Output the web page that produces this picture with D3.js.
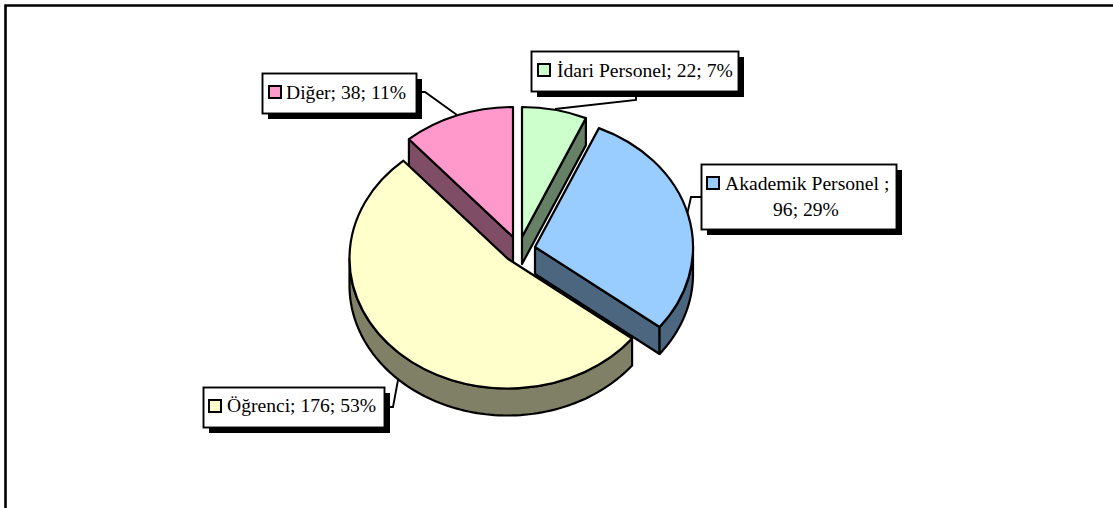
<!DOCTYPE html>
<html><head><meta charset="utf-8">
<script src="https://cdn.jsdelivr.net/npm/d3@7/dist/d3.min.js"></script>
<style>html,body{margin:0;padding:0;background:#fff;overflow:hidden}svg{display:block}</style>
</head><body><svg id="c" width="1113" height="508"></svg>
<script>
// Data
const categories = ["İdari Personel", "Akademik Personel ", "Öğrenci", "Diğer"];
const values = [22, 96, 176, 38];
const percents = [7, 29, 53, 11];

// Styles
const topColors = ["#CCFFCC", "#99CCFF", "#FFFFCC", "#FF99CC"];
const wallColors = ["#668066", "#4D6680", "#808066", "#804D66"];

// Layout
const rx = 158, ry = 130, depth = 27;
const centers = [[522, 237], [535, 247], [507.5, 258.5], [513, 237]];
const boxes = [[531, 51, 207, 40], [701, 164, 195, 65], [203, 387, 181, 40], [262, 73, 154, 40]];
const leaders = [
  [[636, 91], [636, 100], [555, 109]],
  [[701, 197], [691, 197], [687, 215]],
  [[384, 407], [393, 407], [398, 380]],
  [[416, 92], [425, 92], [457, 115]]
];
const drawOrder = [0, 1, 3, 2];

const svg = d3.select("#c");
const FONT = "'Liberation Serif','Times New Roman',serif";
const line = d3.line();

// Chart frame: open at right and bottom, as in the reference
svg.append("path").attr("d", line([[5.5, 508], [5.5, 5.5], [1113, 5.5]]))
  .attr("fill", "none").attr("stroke", "#000").attr("stroke-width", 2.6);

const pie = d3.pie().sort(null).startAngle(0).endAngle(2 * Math.PI);
const arcs = pie(values);
const arcGen = d3.arc().innerRadius(0).outerRadius(rx);
const rim = (c, a, d = 0) => [c[0] + rx * Math.sin(a), c[1] - ry * Math.cos(a) + d];
const STROKE = 2.2;

function wall(g, pts, color) {
  g.append("path").attr("d", line(pts) + "Z").attr("fill", color)
    .attr("stroke", "#000").attr("stroke-width", STROKE).attr("stroke-linejoin", "round");
}

// Leader lines sit below the pie and the boxes
leaders.forEach(p => svg.append("path").attr("d", line(p)).attr("fill", "none")
  .attr("stroke", "#000").attr("stroke-width", 1.9));

drawOrder.forEach(i => {
  const a = arcs[i], c = centers[i], col = wallColors[i];
  const g = svg.append("g");
  const pi = Math.PI;
  if (a.endAngle > 0 && a.endAngle < pi) {
    const r = rim(c, a.endAngle), r2 = rim(c, a.endAngle, depth);
    wall(g, [c, r, r2, [c[0], c[1] + depth]], col);
  }
  if (a.startAngle > pi && a.startAngle < 2 * pi) {
    const r = rim(c, a.startAngle), r2 = rim(c, a.startAngle, depth);
    wall(g, [c, r, r2, [c[0], c[1] + depth]], col);
  }
  const lo = Math.max(a.startAngle, pi / 2), hi = Math.min(a.endAngle, 3 * pi / 2);
  if (hi > lo) {
    const n = 90;
    const angs = d3.range(n + 1).map(k => lo + (hi - lo) * k / n);
    const pts = angs.map(t => rim(c, t)).concat(angs.slice().reverse().map(t => rim(c, t, depth)));
    wall(g, pts, col);
  }
  g.append("path").attr("d", arcGen(a))
    .attr("transform", `translate(${c[0]},${c[1]}) scale(1,${ry / rx})`)
    .attr("vector-effect", "non-scaling-stroke")
    .attr("fill", topColors[i]).attr("stroke", "#000").attr("stroke-width", STROKE)
    .attr("stroke-linejoin", "round");
});

// Data labels
const keyOffsets = [[7, 13], [6, 13], [6, 13], [7, 13]];
const textStarts = [26, 24, 24, 24];
const baselines = [26, 26, 25, 26];
categories.forEach((name, i) => {
  const [x, y, w, h] = boxes[i];
  const g = svg.append("g");
  g.append("rect").attr("x", x + 6).attr("y", y + 6).attr("width", w).attr("height", h).attr("fill", "#000");
  g.append("rect").attr("x", x + .5).attr("y", y + .5).attr("width", w).attr("height", h)
    .attr("fill", "#fff").attr("stroke", "#000").attr("stroke-width", 1.9);
  g.append("rect").attr("x", x + keyOffsets[i][0]).attr("y", y + keyOffsets[i][1]).attr("width", 12).attr("height", 12)
    .attr("fill", topColors[i]).attr("stroke", "#000").attr("stroke-width", 2);
  const t = g.append("text").attr("font-family", FONT).attr("font-size", 19.6).attr("fill", "#000");
  const tail = `${values[i]}; ${percents[i]}%`;
  if (i === 1) {
    t.append("tspan").attr("x", x + textStarts[i]).attr("y", y + baselines[i]).text(`${name};`);
    t.append("tspan").attr("x", x + 105).attr("y", y + 52).attr("text-anchor", "middle").text(tail);
  } else {
    t.attr("x", x + textStarts[i]).attr("y", y + baselines[i]).text(`${name}; ${tail}`);
  }
});
</script></body></html>
